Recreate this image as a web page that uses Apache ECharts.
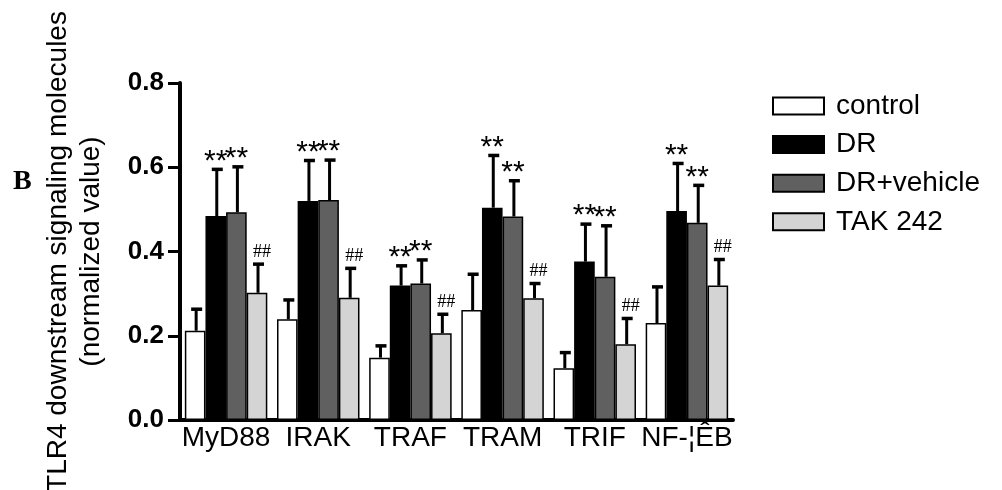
<!DOCTYPE html>
<html>
<head>
<meta charset="utf-8">
<script src="https://cdn.jsdelivr.net/npm/echarts@6/dist/echarts.min.js"></script>
<style>
  html, body { margin: 0; padding: 0; background: #fff; }
  #tlrChart { width: 1002px; height: 490px; }
</style>
</head>
<body>
<div id="tlrChart"></div>
<script>
const categories = ["MyD88", "IRAK", "TRAF", "TRAM", "TRIF", "NF-¦ÊB"];
const groupNames = ["control", "DR", "DR+vehicle", "TAK 242"];
const yTicks = [0, 0.2, 0.4, 0.6, 0.8];

const controlMean = [0.212, 0.239, 0.148, 0.261, 0.123, 0.230];
const controlErr = [0.051, 0.046, 0.028, 0.085, 0.037, 0.086];
const drMean = [0.484, 0.520, 0.319, 0.504, 0.376, 0.496];
const drErr = [0.111, 0.096, 0.047, 0.124, 0.089, 0.113];
const vehicleMean = [0.493, 0.522, 0.324, 0.483, 0.340, 0.468];
const vehicleErr = [0.108, 0.095, 0.056, 0.085, 0.121, 0.089];
const takMean = [0.302, 0.290, 0.206, 0.289, 0.180, 0.319];
const takErr = [0.068, 0.070, 0.045, 0.035, 0.061, 0.062];

const drMarks = ["**", "**", "**", "**", "**", "**"];
const vehicleMarks = ["**", "**", "**", "**", "**", "**"];
const takMarks = ["##", "##", "##", "##", "##", "##"];

const FONT = "Liberation Sans";
const SERIF = "Liberation Serif";
const CAT_GAP = 0.105;
const colors = ["#ffffff", "#000000", "#606060", "#d4d4d4"];

const groups = [
  { mean: controlMean, err: controlErr, marks: null },
  { mean: drMean, err: drErr, marks: drMarks },
  { mean: vehicleMean, err: vehicleErr, marks: vehicleMarks },
  { mean: takMean, err: takErr, marks: takMarks },
];

// upper error bar + significance mark, placed over the matching bar
function errorSeries(gi) {
  const g = groups[gi];
  return {
    name: groupNames[gi] + " err",
    type: "custom",
    z: 5,
    data: categories.map((c, i) => [i, g.mean[i], g.err[i], g.marks ? g.marks[i] : ""]),
    renderItem(params, api) {
      const band = api.size([1, 0])[0];
      const barW = (band * (1 - CAT_GAP)) / 4;
      const center = api.coord([api.value(0), 0]);
      const x = center[0] - 2 * barW + barW * (gi + 0.5) + 1;
      const yBase = api.coord([api.value(0), api.value(1)])[1];
      const yTop = api.coord([api.value(0), api.value(1) + api.value(2)])[1];
      const children = [
        { type: "line", shape: { x1: x, y1: yBase, x2: x, y2: yTop }, style: { stroke: "#000", lineWidth: 3 } },
        { type: "line", shape: { x1: x - 5, y1: yTop, x2: x + 6, y2: yTop }, style: { stroke: "#000", lineWidth: 3.5 } },
      ];
      const mark = api.value(3);
      if (mark) {
        const isStar = mark.indexOf("*") >= 0;
        children.push({
          type: "text",
          style: {
            text: mark,
            x: isStar ? x - 1 : x + 4,
            y: isStar ? yTop + 7 : yTop - 3,
            align: "center",
            verticalAlign: "bottom",
            fill: "#000",
            fontSize: isStar ? 30 : 18,
            fontFamily: isStar ? FONT : SERIF,
          },
        });
      }
      return { type: "group", children };
    },
  };
}

const barSeries = groups.map((g, gi) => ({
  name: groupNames[gi],
  type: "bar",
  data: g.mean,
  barGap: "0%",
  barCategoryGap: (CAT_GAP * 100) + "%",
  itemStyle: { color: colors[gi], borderColor: "#000", borderWidth: 1.5 },
}));

const option = {
  animation: false,
  backgroundColor: "#fff",
  textStyle: { fontFamily: FONT },
  title: {
    text: "B",
    left: 8,
    top: 163,
    textStyle: { fontSize: 28, fontWeight: "bold", fontFamily: SERIF, color: "#000" },
  },
  grid: { left: 180, right: 269, top: 83, height: 337, outerBoundsMode: "none" },
  legend: {
    data: groupNames,
    orient: "vertical",
    left: 767,
    top: 87,
    itemWidth: 51,
    itemHeight: 17,
    itemGap: 10.6,
    icon: "rect",
    textStyle: { fontSize: 28, color: "#000", fontFamily: FONT, padding: [0, 0, 0, 7] },
  },
  xAxis: {
    type: "category",
    data: categories,
    axisLine: { lineStyle: { color: "#000", width: 4 } },
    axisTick: { show: false },
    axisLabel: { color: "#000", fontSize: 28, margin: 4, fontFamily: FONT, interval: 0 },
  },
  yAxis: {
    type: "value",
    min: yTicks[0],
    max: yTicks[yTicks.length - 1],
    interval: 0.2,
    name: "TLR4 downstream signaling molecules\n(normalized value)",
    nameLocation: "middle",
    nameGap: 72,
    nameTextStyle: { color: "#000", fontSize: 28, fontFamily: FONT, lineHeight: 33 },
    axisLine: { show: true, lineStyle: { color: "#000", width: 4 } },
    axisTick: { show: true, length: 12, lineStyle: { color: "#000", width: 3 } },
    axisLabel: {
      color: "#000",
      fontSize: 26,
      fontWeight: "bold",
      fontFamily: FONT,
      margin: 16,
      formatter: (v) => v.toFixed(1),
    },
    splitLine: { show: false },
  },
  series: [...barSeries, ...groups.map((g, gi) => errorSeries(gi))],
};

const tlrChart = echarts.init(document.getElementById("tlrChart"));
tlrChart.setOption(option);

window.addEventListener("resize", () => {
  tlrChart.resize();
});
</script>
</body>
</html>
